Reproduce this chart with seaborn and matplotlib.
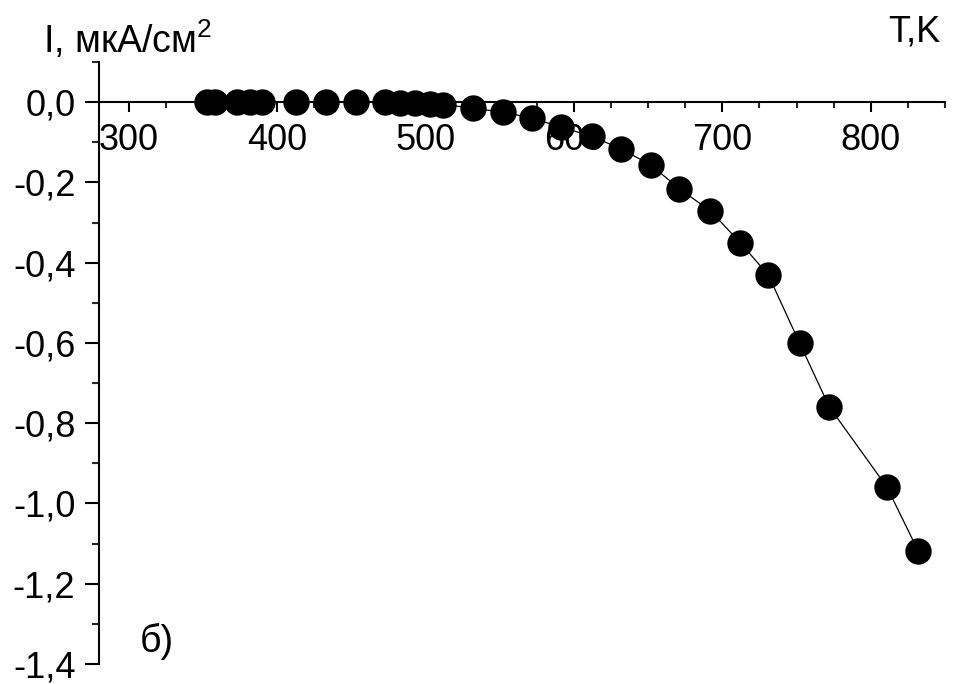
import matplotlib
matplotlib.use("Agg")
import matplotlib.pyplot as plt
import seaborn as sns
import pandas as pd
from matplotlib.ticker import MultipleLocator, FuncFormatter

# Data
temperature_K = [353, 358, 373, 382, 390, 413, 433, 453, 473, 483, 493, 503, 512,
                 532, 552, 572, 591, 612, 632, 652, 671, 692, 712, 731, 752, 772,
                 811, 832]
current_uA_cm2 = [0.0, 0.0, 0.0, 0.0, 0.0, 0.0, 0.0, 0.0, 0.0, -0.002, -0.003, -0.004, -0.006,
                  -0.015, -0.025, -0.040, -0.062, -0.085, -0.117, -0.157, -0.216, -0.271,
                  -0.350, -0.431, -0.600, -0.759, -0.960, -1.119]

x_major_ticks = [300, 400, 500, 600, 700, 800]
y_major_ticks = [0.0, -0.2, -0.4, -0.6, -0.8, -1.0, -1.2, -1.4]

y_label_text = "I, мкА/см$^{2}$"
x_label_text = "T,K"
panel_text = "б)"

sns.set_theme(style="white")
plt.rcParams['font.family'] = ['Liberation Sans', 'DejaVu Sans']
plt.rcParams['mathtext.fontset'] = 'custom'
plt.rcParams['mathtext.rm'] = 'Liberation Sans'
plt.rcParams['mathtext.default'] = 'regular'

df = pd.DataFrame({"T": temperature_K, "I": current_uA_cm2})

fig = plt.figure(figsize=(9.54, 6.84), dpi=100)
ax = fig.add_axes([99/954, 1-664/684, (945-99)/954, (664-62)/684])

sns.lineplot(data=df, x="T", y="I", ax=ax, color="black", linewidth=0.9,
             marker="o", markersize=19, markeredgewidth=0, markerfacecolor="black",
             clip_on=False, zorder=5, sort=False)

ax.set_xlim(280, 850)
ax.set_ylim(-1.4, 0.1)

ax.spines['top'].set_visible(False)
ax.spines['right'].set_visible(False)
ax.spines['bottom'].set_position(('data', 0))
for s in ['left', 'bottom']:
    ax.spines[s].set_linewidth(1.5)
    ax.spines[s].set_color('black')

ax.set_xticks(x_major_ticks)
ax.set_yticks(y_major_ticks)
ax.xaxis.set_minor_locator(MultipleLocator(25))
ax.yaxis.set_minor_locator(MultipleLocator(0.1))
ax.yaxis.set_major_formatter(FuncFormatter(lambda v, p: f"{v:.1f}".replace('.', ',').replace('-0,0', '0,0')))

ax.tick_params(axis='x', which='major', direction='out', length=7, width=1.5, pad=8,
               labelsize=26, colors='black', bottom=True)
ax.tick_params(axis='x', which='minor', direction='out', length=4, width=1.5, bottom=True)
ax.tick_params(axis='y', which='major', direction='out', length=10, width=1.5, pad=7,
               labelsize=26, colors='black', left=True)
ax.tick_params(axis='y', which='minor', direction='out', length=5, width=1.5, left=True)

ax.set_xlabel("")
ax.set_ylabel("")
ax.grid(False)

fig.text(43/954, 1-53/684, y_label_text, fontsize=27, ha='left', va='baseline', color='black')
fig.text(888/954, 1-42/684, x_label_text, fontsize=26, ha='left', va='baseline', color='black')
fig.text(140/954, 1-652/684, panel_text, fontsize=27, ha='left', va='baseline', color='black')

fig.savefig("out.png", dpi=100)
